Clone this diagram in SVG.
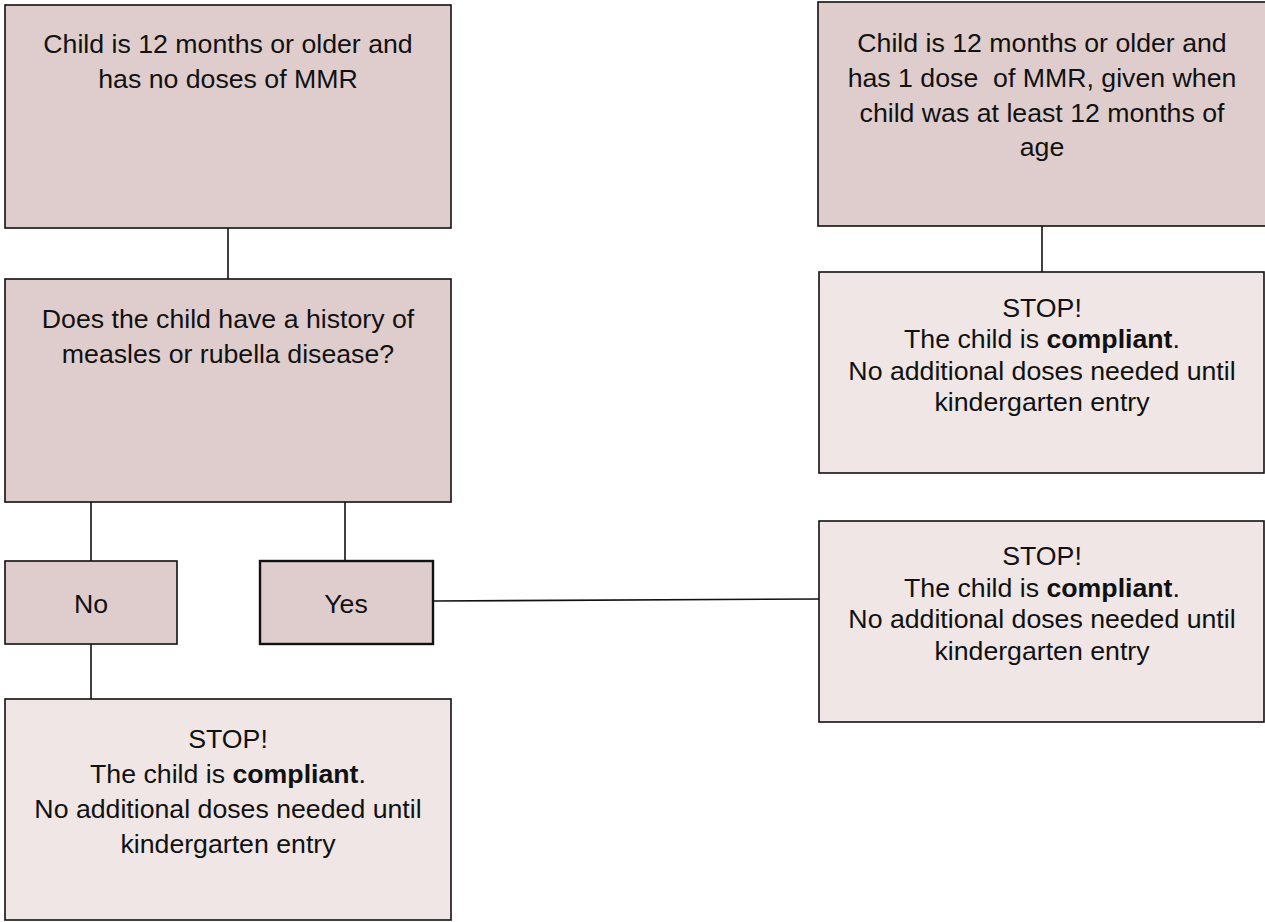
<svg xmlns="http://www.w3.org/2000/svg" width="1265" height="922" viewBox="0 0 1265 922">
  <style>
    .box { stroke: #111; stroke-width: 1.6; }
    .dark { fill: #DFCDCD; }
    .light { fill: #EFE6E5; }
    .thick { stroke-width: 2.4; }
    .lbl { font-family: "Liberation Sans", Arial, sans-serif; font-size: 26.7px; fill: #111; text-anchor: middle; white-space: pre; }
    .b { font-weight: bold; }
    .conn line { stroke: #111; stroke-width: 1.6; }
  </style>
  <rect width="1265" height="922" fill="#ffffff"/>

  <!-- connectors -->
  <g id="connectors" class="conn">
    <line x1="228" y1="228" x2="228" y2="279"/>
    <line x1="91" y1="502" x2="91" y2="561"/>
    <line x1="345" y1="502" x2="345" y2="561"/>
    <line x1="91" y1="644" x2="91" y2="699"/>
    <line x1="1042" y1="226" x2="1042" y2="272"/>
    <line x1="433" y1="601" x2="821" y2="599"/>
  </g>

  <g id="start-no-doses">
    <rect class="box dark" x="5" y="5" width="446" height="223"/>
    <text class="lbl" x="228" y="53">Child is 12 months or older and</text>
    <text class="lbl" x="228" y="88">has no doses of MMR</text>
  </g>

  <g id="history-question">
    <rect class="box dark" x="5" y="279" width="446" height="223"/>
    <text class="lbl" x="228" y="328">Does the child have a history of</text>
    <text class="lbl" x="228" y="363">measles or rubella disease?</text>
  </g>

  <g id="answer-no">
    <rect class="box dark" x="5" y="561" width="172" height="83"/>
    <text class="lbl" x="91" y="613">No</text>
  </g>

  <g id="answer-yes">
    <rect class="box dark thick" x="260" y="561" width="173" height="83"/>
    <text class="lbl" x="346" y="613">Yes</text>
  </g>

  <g id="stop-left">
    <rect class="box light" x="5" y="699" width="446" height="221"/>
    <text class="lbl" x="228" y="748">STOP!</text>
    <text class="lbl" x="228" y="783">The child is <tspan class="b">compliant</tspan>.</text>
    <text class="lbl" x="228" y="818">No additional doses needed until</text>
    <text class="lbl" x="228" y="853">kindergarten entry</text>
  </g>

  <g id="start-one-dose">
    <rect class="box dark" x="818" y="2" width="460" height="224"/>
    <text class="lbl" x="1042" y="52">Child is 12 months or older and</text>
    <text class="lbl" x="1042" y="87" xml:space="preserve">has 1 dose  of MMR, given when</text>
    <text class="lbl" x="1042" y="122">child was at least 12 months of</text>
    <text class="lbl" x="1042" y="156">age</text>
  </g>

  <g id="stop-right-top">
    <rect class="box light" x="819" y="272" width="445" height="201"/>
    <text class="lbl" x="1042" y="317">STOP!</text>
    <text class="lbl" x="1042" y="348">The child is <tspan class="b">compliant</tspan>.</text>
    <text class="lbl" x="1042" y="380">No additional doses needed until</text>
    <text class="lbl" x="1042" y="411">kindergarten entry</text>
  </g>

  <g id="stop-right-bottom">
    <rect class="box light" x="819" y="521" width="445" height="201"/>
    <text class="lbl" x="1042" y="565">STOP!</text>
    <text class="lbl" x="1042" y="597">The child is <tspan class="b">compliant</tspan>.</text>
    <text class="lbl" x="1042" y="628">No additional doses needed until</text>
    <text class="lbl" x="1042" y="660">kindergarten entry</text>
  </g>
</svg>
